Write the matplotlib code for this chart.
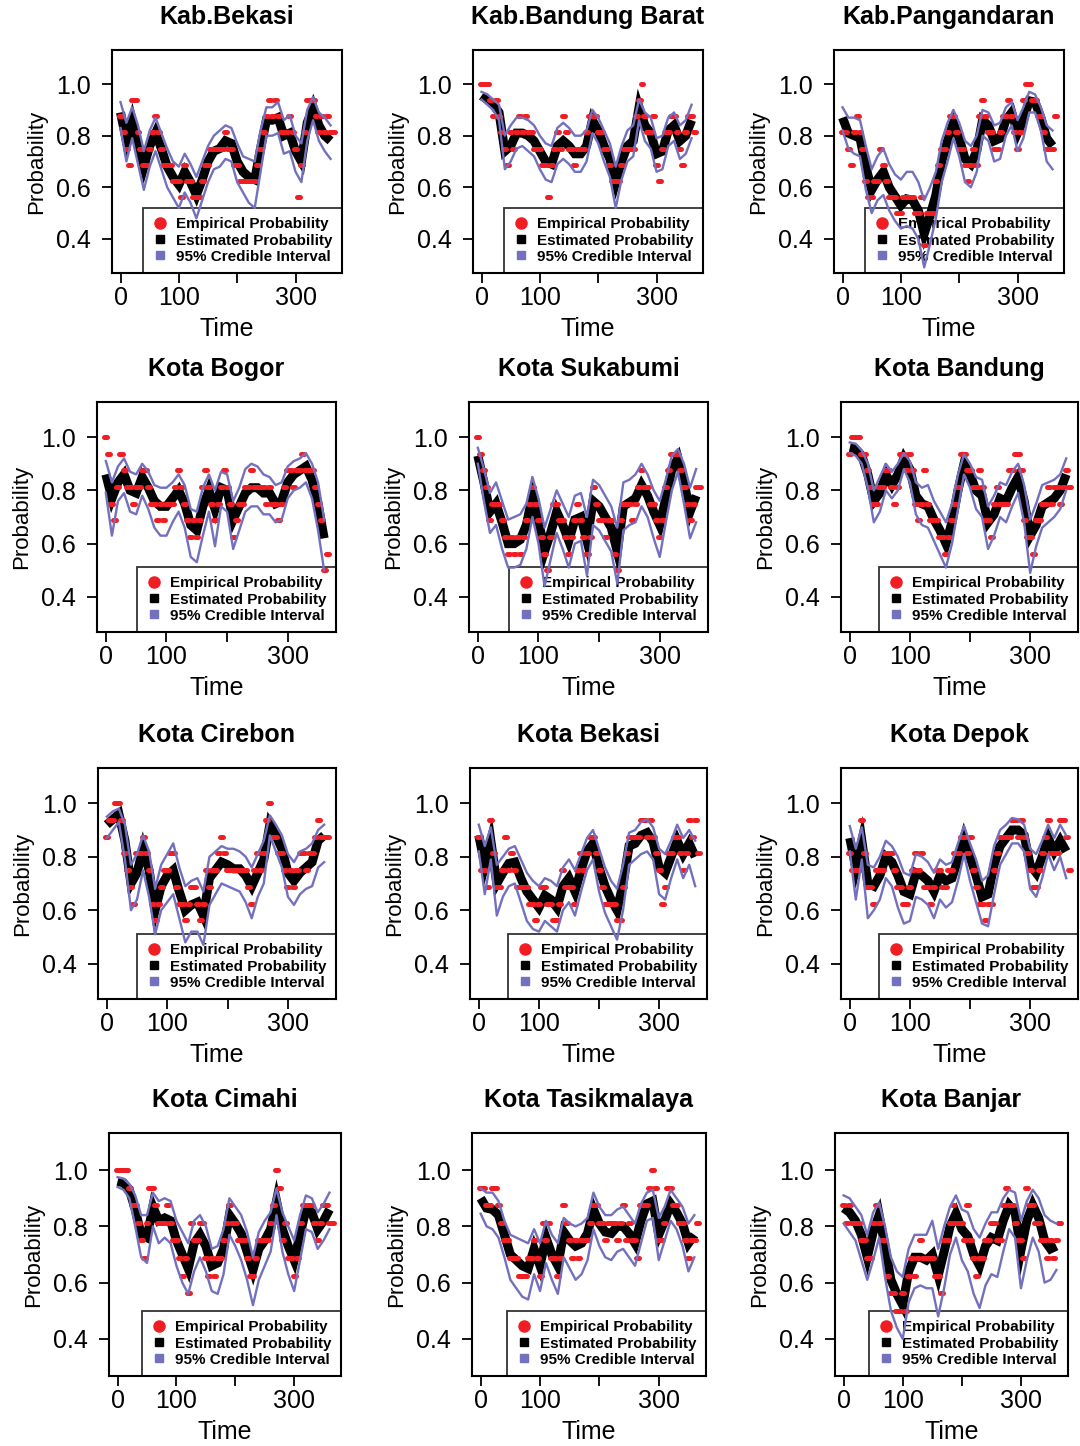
import numpy as np
import matplotlib
matplotlib.use('Agg')
import matplotlib.pyplot as plt
from matplotlib.lines import Line2D

plt.rcParams['font.family'] = ['Liberation Sans', 'DejaVu Sans']

# ---------------------------------------------------------------------------
# Data.
# *_emp : empirical probability every 5 days, in sixteenths (k/16)
# *_est, *_lo, *_hi : estimate and 95% credible band every 10 days
# ---------------------------------------------------------------------------
titles = ['Kab.Bekasi', 'Kab.Bandung Barat', 'Kab.Pangandaran',
          'Kota Bogor', 'Kota Sukabumi', 'Kota Bandung',
          'Kota Cirebon', 'Kota Bekasi', 'Kota Depok',
          'Kota Cimahi', 'Kota Tasikmalaya', 'Kota Banjar']

legend_labels = ['Empirical Probability', 'Estimated Probability', '95% Credible Interval']

# Kab.Bekasi
kbekasi_emp = [14, 13, 12, 11, 15, 15, 13, 12, 11, 11,
               12, 13, 14, 13, 12, 11, 11, 11, 10, 10,
               10, 9, 11, 10, 10, 9, 9, 9, 10, 11,
               11, 12, 12, 12, 12, 12, 13, 12, 12, 11,
               11, 10, 10, 10, 10, 10, 10, 11, 12, 13,
               14, 15, 14, 15, 14, 13, 13, 13, 14, 13,
               12, 9, 11, 13, 15, 15, 15, 14, 13, 14,
               13, 14, 13, 13]
kbekasi_est = [0.89, 0.78, 0.86, 0.77, 0.68, 0.76, 0.81, 0.75, 0.68, 0.64,
               0.61, 0.66, 0.62, 0.57, 0.63, 0.70, 0.74, 0.75, 0.78, 0.77,
               0.70, 0.66, 0.64, 0.63, 0.75, 0.86, 0.86, 0.87, 0.80, 0.81,
               0.74, 0.70, 0.85, 0.91, 0.84, 0.80, 0.78]
kbekasi_hi = [0.93, 0.85, 0.91, 0.84, 0.74, 0.82, 0.87, 0.81, 0.75, 0.70,
              0.68, 0.73, 0.69, 0.64, 0.70, 0.76, 0.80, 0.82, 0.84, 0.83,
              0.77, 0.72, 0.71, 0.70, 0.82, 0.91, 0.91, 0.93, 0.86, 0.88,
              0.80, 0.77, 0.90, 0.95, 0.89, 0.87, 0.84]
kbekasi_lo = [0.83, 0.70, 0.79, 0.69, 0.59, 0.68, 0.74, 0.67, 0.60, 0.56,
              0.52, 0.58, 0.54, 0.48, 0.55, 0.62, 0.67, 0.68, 0.71, 0.70,
              0.62, 0.58, 0.54, 0.52, 0.66, 0.80, 0.80, 0.81, 0.73, 0.74,
              0.66, 0.62, 0.78, 0.86, 0.78, 0.74, 0.71]

# Kab.Bandung Barat
bbarat_emp = [16, 16, 16, 15, 14, 15, 14, 13, 12, 11,
              13, 12, 13, 14, 13, 14, 13, 13, 12, 12,
              12, 11, 11, 9, 11, 12, 13, 12, 14, 13,
              12, 12, 11, 12, 12, 12, 13, 14, 14, 14,
              13, 13, 12, 12, 11, 10, 10, 10, 11, 12,
              12, 12, 12, 14, 15, 16, 14, 13, 13, 14,
              11, 10, 12, 13, 13, 14, 14, 13, 12, 11,
              13, 14, 14, 13]
bbarat_est = [0.955, 0.94, 0.92, 0.89, 0.74, 0.76, 0.81, 0.81, 0.80, 0.78,
              0.74, 0.70, 0.69, 0.76, 0.78, 0.76, 0.73, 0.73, 0.76, 0.86,
              0.82, 0.76, 0.71, 0.62, 0.70, 0.76, 0.78, 0.91, 0.84, 0.81,
              0.73, 0.74, 0.82, 0.84, 0.78, 0.80, 0.86]
bbarat_hi = [0.97, 0.96, 0.94, 0.92, 0.80, 0.84, 0.87, 0.87, 0.86, 0.84,
             0.80, 0.77, 0.76, 0.83, 0.85, 0.83, 0.80, 0.80, 0.82, 0.90,
             0.87, 0.82, 0.77, 0.68, 0.76, 0.82, 0.84, 0.94, 0.89, 0.87,
             0.79, 0.80, 0.87, 0.89, 0.84, 0.86, 0.92]
bbarat_lo = [0.94, 0.92, 0.90, 0.86, 0.67, 0.70, 0.75, 0.76, 0.74, 0.72,
             0.67, 0.63, 0.62, 0.69, 0.71, 0.69, 0.66, 0.66, 0.70, 0.81,
             0.77, 0.70, 0.64, 0.52, 0.63, 0.70, 0.72, 0.86, 0.78, 0.75,
             0.66, 0.67, 0.76, 0.78, 0.71, 0.73, 0.79]

# Kab.Pangandaran
pangandaran_emp = [13, 13, 12, 11, 13, 14, 13, 12, 10, 9,
                   9, 10, 10, 12, 11, 10, 9, 9, 9, 8,
                   8, 9, 9, 9, 9, 8, 8, 9, 6, 8,
                   8, 8, 10, 11, 12, 12, 13, 14, 14, 13,
                   12, 12, 11, 10, 11, 12, 11, 14, 15, 14,
                   13, 13, 12, 12, 13, 14, 14, 15, 14, 13,
                   12, 13, 15, 16, 16, 15, 15, 14, 14, 13,
                   12, 12, 12, 14]
pangandaran_est = [0.87, 0.81, 0.80, 0.79, 0.68, 0.59, 0.63, 0.66, 0.60, 0.565,
                   0.53, 0.555, 0.55, 0.51, 0.42, 0.49, 0.57, 0.70, 0.78, 0.85,
                   0.79, 0.71, 0.69, 0.74, 0.86, 0.84, 0.78, 0.79, 0.86, 0.89,
                   0.81, 0.86, 0.935, 0.93, 0.87, 0.79, 0.76]
pangandaran_hi = [0.91, 0.87, 0.87, 0.86, 0.76, 0.67, 0.72, 0.75, 0.69, 0.65,
                  0.63, 0.66, 0.66, 0.62, 0.55, 0.60, 0.66, 0.78, 0.85, 0.90,
                  0.85, 0.78, 0.76, 0.80, 0.90, 0.89, 0.84, 0.85, 0.91, 0.93,
                  0.86, 0.91, 0.97, 0.96, 0.91, 0.84, 0.82]
pangandaran_lo = [0.82, 0.75, 0.73, 0.72, 0.59, 0.50, 0.55, 0.57, 0.51, 0.47,
                  0.44, 0.45, 0.44, 0.40, 0.29, 0.38, 0.48, 0.62, 0.70, 0.79,
                  0.72, 0.62, 0.60, 0.66, 0.80, 0.78, 0.70, 0.71, 0.80, 0.84,
                  0.74, 0.79, 0.89, 0.89, 0.82, 0.70, 0.67]

# Kota Bogor
bogor_emp = [16, 15, 12, 11, 13, 15, 14, 13, 13, 12,
             13, 13, 14, 14, 13, 12, 12, 11, 12, 11,
             12, 12, 12, 13, 14, 13, 12, 11, 10, 11,
             10, 11, 13, 14, 13, 12, 11, 12, 13, 14,
             13, 12, 10, 11, 12, 12, 13, 13, 14, 13,
             13, 13, 13, 12, 13, 12, 12, 11, 12, 13,
             14, 14, 13, 14, 14, 15, 14, 14, 14, 13,
             12, 11, 8, 9]
bogor_est = [0.86, 0.77, 0.83, 0.86, 0.80, 0.79, 0.85, 0.81, 0.76, 0.74,
             0.74, 0.77, 0.80, 0.75, 0.67, 0.65, 0.74, 0.80, 0.73, 0.81,
             0.80, 0.69, 0.74, 0.79, 0.81, 0.81, 0.79, 0.79, 0.75, 0.76,
             0.83, 0.86, 0.875, 0.89, 0.84, 0.75, 0.62]
bogor_hi = [0.91, 0.83, 0.89, 0.92, 0.87, 0.86, 0.90, 0.87, 0.82, 0.81,
            0.81, 0.83, 0.86, 0.82, 0.73, 0.72, 0.81, 0.86, 0.80, 0.87,
            0.86, 0.76, 0.81, 0.88, 0.90, 0.89, 0.86, 0.85, 0.82, 0.83,
            0.89, 0.91, 0.92, 0.94, 0.90, 0.83, 0.69]
bogor_lo = [0.79, 0.63, 0.76, 0.79, 0.72, 0.71, 0.78, 0.73, 0.66, 0.63,
            0.63, 0.68, 0.72, 0.66, 0.55, 0.53, 0.63, 0.72, 0.59, 0.74,
            0.72, 0.58, 0.65, 0.72, 0.74, 0.74, 0.71, 0.71, 0.68, 0.69,
            0.77, 0.80, 0.81, 0.83, 0.77, 0.65, 0.50]

# Kota Sukabumi
sukabumi_emp = [16, 15, 14, 13, 11, 12, 12, 12, 11, 10,
                9, 10, 9, 10, 9, 10, 11, 12, 13, 12,
                11, 10, 9, 8, 10, 12, 12, 11, 11, 10,
                9, 10, 11, 12, 11, 10, 9, 10, 13, 12,
                11, 11, 10, 11, 11, 9, 8, 11, 12, 12,
                12, 11, 12, 13, 14, 13, 13, 12, 12, 11,
                10, 11, 13, 14, 15, 15, 15, 14, 13, 12,
                11, 12, 13, 13]
sukabumi_est = [0.93, 0.83, 0.72, 0.75, 0.68, 0.60, 0.60, 0.615, 0.67, 0.78,
                0.69, 0.57, 0.64, 0.72, 0.67, 0.61, 0.69, 0.70, 0.61, 0.76,
                0.74, 0.70, 0.66, 0.57, 0.74, 0.755, 0.77, 0.82, 0.78, 0.72,
                0.67, 0.77, 0.88, 0.92, 0.83, 0.72, 0.78]
sukabumi_hi = [0.96, 0.88, 0.79, 0.83, 0.76, 0.69, 0.70, 0.71, 0.75, 0.85,
               0.77, 0.66, 0.73, 0.80, 0.75, 0.70, 0.78, 0.79, 0.70, 0.84,
               0.82, 0.78, 0.74, 0.66, 0.83, 0.84, 0.86, 0.90, 0.86, 0.80,
               0.76, 0.84, 0.93, 0.955, 0.90, 0.81, 0.88]
sukabumi_lo = [0.90, 0.76, 0.64, 0.67, 0.58, 0.51, 0.51, 0.52, 0.58, 0.70,
               0.60, 0.44, 0.54, 0.64, 0.58, 0.51, 0.60, 0.61, 0.48, 0.67,
               0.65, 0.61, 0.57, 0.45, 0.65, 0.67, 0.68, 0.74, 0.70, 0.62,
               0.55, 0.68, 0.80, 0.87, 0.75, 0.62, 0.68]

# Kota Bandung
bandung_emp = [15, 16, 16, 16, 15, 15, 14, 13, 12, 12,
               13, 13, 14, 14, 13, 12, 13, 15, 15, 14,
               15, 14, 12, 11, 12, 14, 12, 11, 11, 11,
               10, 10, 9, 10, 11, 12, 13, 15, 15, 14,
               14, 13, 13, 14, 13, 11, 11, 10, 12, 13,
               12, 12, 12, 14, 14, 15, 15, 14, 11, 10,
               10, 9, 11, 11, 12, 12, 13, 12, 13, 13,
               12, 13, 14, 13]
bandung_est = [0.96, 0.955, 0.93, 0.86, 0.76, 0.79, 0.86, 0.82, 0.86, 0.92,
               0.88, 0.78, 0.75, 0.74, 0.69, 0.65, 0.60, 0.68, 0.80, 0.90,
               0.86, 0.80, 0.78, 0.68, 0.71, 0.77, 0.76, 0.81, 0.85, 0.76,
               0.63, 0.67, 0.74, 0.755, 0.77, 0.80, 0.86]
bandung_hi = [0.98, 0.975, 0.95, 0.90, 0.80, 0.85, 0.90, 0.87, 0.90, 0.94,
              0.91, 0.83, 0.81, 0.82, 0.76, 0.72, 0.68, 0.75, 0.86, 0.935,
              0.90, 0.85, 0.84, 0.74, 0.78, 0.83, 0.82, 0.87, 0.90, 0.82,
              0.69, 0.75, 0.82, 0.83, 0.84, 0.86, 0.92]
bandung_lo = [0.94, 0.93, 0.90, 0.81, 0.68, 0.72, 0.80, 0.77, 0.80, 0.88,
              0.83, 0.71, 0.67, 0.66, 0.61, 0.56, 0.51, 0.60, 0.73, 0.86,
              0.81, 0.73, 0.70, 0.58, 0.63, 0.70, 0.68, 0.74, 0.79, 0.68,
              0.49, 0.59, 0.66, 0.68, 0.70, 0.73, 0.80]

# Kota Cirebon
cirebon_emp = [14, 15, 15, 16, 16, 15, 13, 12, 11, 10,
               13, 13, 14, 13, 12, 10, 9, 10, 11, 12,
               12, 13, 13, 11, 10, 10, 9, 10, 11, 11,
               10, 9, 10, 12, 11, 12, 12, 13, 14, 13,
               12, 12, 12, 12, 12, 12, 12, 11, 10, 12,
               13, 12, 13, 15, 16, 14, 14, 13, 13, 12,
               11, 12, 11, 12, 13, 13, 12, 13, 13, 14,
               15, 14, 14, 14]
cirebon_est = [0.92, 0.94, 0.96, 0.86, 0.70, 0.74, 0.83, 0.75, 0.60, 0.69,
               0.73, 0.75, 0.67, 0.60, 0.62, 0.63, 0.58, 0.72, 0.75, 0.78,
               0.77, 0.755, 0.755, 0.73, 0.69, 0.74, 0.79, 0.92, 0.88, 0.83,
               0.74, 0.71, 0.74, 0.76, 0.78, 0.86, 0.88]
cirebon_hi = [0.95, 0.97, 0.98, 0.92, 0.77, 0.81, 0.88, 0.82, 0.68, 0.77,
              0.81, 0.85, 0.76, 0.69, 0.71, 0.72, 0.67, 0.80, 0.82, 0.84,
              0.83, 0.83, 0.82, 0.80, 0.76, 0.81, 0.86, 0.955, 0.92, 0.88,
              0.81, 0.78, 0.82, 0.83, 0.85, 0.90, 0.92]
cirebon_lo = [0.87, 0.90, 0.93, 0.79, 0.60, 0.64, 0.75, 0.65, 0.51, 0.60,
              0.63, 0.66, 0.57, 0.48, 0.52, 0.52, 0.47, 0.62, 0.66, 0.70,
              0.69, 0.68, 0.67, 0.63, 0.57, 0.65, 0.70, 0.88, 0.82, 0.76,
              0.65, 0.62, 0.66, 0.68, 0.69, 0.76, 0.78]

# Kota Bekasi
bekasi_emp = [14, 12, 12, 11, 15, 13, 11, 11, 12, 14,
              12, 13, 12, 11, 11, 11, 11, 10, 10, 9,
              10, 11, 11, 10, 10, 9, 9, 10, 12, 11,
              11, 11, 10, 12, 13, 12, 13, 14, 14, 13,
              12, 11, 10, 10, 10, 10, 9, 9, 11, 13,
              14, 14, 14, 14, 15, 15, 14, 15, 14, 13,
              12, 10, 11, 13, 13, 14, 14, 13, 12, 13,
              15, 14, 15, 13]
bekasi_est = [0.88, 0.77, 0.86, 0.70, 0.74, 0.775, 0.78, 0.72, 0.67, 0.64,
              0.61, 0.655, 0.64, 0.61, 0.69, 0.72, 0.67, 0.75, 0.82, 0.85,
              0.76, 0.69, 0.64, 0.60, 0.70, 0.84, 0.85, 0.88, 0.89, 0.855,
              0.76, 0.74, 0.80, 0.86, 0.81, 0.85, 0.80]
bekasi_hi = [0.92, 0.84, 0.91, 0.77, 0.80, 0.83, 0.84, 0.79, 0.74, 0.71,
             0.69, 0.72, 0.71, 0.69, 0.76, 0.79, 0.75, 0.81, 0.87, 0.90,
             0.83, 0.76, 0.71, 0.68, 0.77, 0.89, 0.90, 0.93, 0.94, 0.91,
             0.83, 0.81, 0.86, 0.92, 0.87, 0.90, 0.86]
bekasi_lo = [0.82, 0.66, 0.79, 0.58, 0.65, 0.69, 0.70, 0.63, 0.56, 0.53,
             0.52, 0.56, 0.54, 0.52, 0.60, 0.63, 0.58, 0.67, 0.75, 0.79,
             0.67, 0.59, 0.54, 0.49, 0.60, 0.77, 0.79, 0.81, 0.82, 0.79,
             0.66, 0.64, 0.72, 0.79, 0.72, 0.77, 0.69]

# Kota Depok
depok_emp = [13, 12, 12, 12, 15, 13, 11, 11, 10, 12,
             12, 12, 13, 13, 13, 12, 11, 11, 10, 10,
             11, 12, 13, 12, 13, 11, 11, 10, 11, 12,
             12, 11, 11, 12, 12, 13, 13, 14, 14, 13,
             14, 12, 11, 10, 10, 9, 10, 10, 12, 13,
             14, 14, 14, 14, 15, 15, 14, 15, 14, 13,
             12, 11, 11, 12, 13, 14, 15, 13, 13, 13,
             15, 15, 14, 12]
depok_est = [0.87, 0.76, 0.86, 0.70, 0.69, 0.73, 0.80, 0.78, 0.73, 0.67,
             0.66, 0.74, 0.73, 0.71, 0.67, 0.73, 0.71, 0.72, 0.79, 0.87,
             0.80, 0.73, 0.65, 0.66, 0.77, 0.84, 0.87, 0.90, 0.90, 0.88,
             0.77, 0.74, 0.80, 0.87, 0.82, 0.86, 0.82]
depok_hi = [0.915, 0.83, 0.91, 0.77, 0.76, 0.80, 0.86, 0.84, 0.80, 0.74,
            0.73, 0.81, 0.80, 0.78, 0.74, 0.79, 0.77, 0.78, 0.85, 0.915,
            0.85, 0.79, 0.71, 0.73, 0.84, 0.90, 0.92, 0.945, 0.94, 0.92,
            0.83, 0.81, 0.86, 0.92, 0.87, 0.92, 0.88]
depok_lo = [0.82, 0.64, 0.79, 0.57, 0.60, 0.64, 0.72, 0.69, 0.61, 0.55,
            0.56, 0.65, 0.64, 0.62, 0.57, 0.64, 0.61, 0.63, 0.71, 0.81,
            0.71, 0.63, 0.55, 0.54, 0.66, 0.77, 0.81, 0.85, 0.85, 0.82,
            0.68, 0.65, 0.72, 0.81, 0.75, 0.80, 0.72]

# Kota Cimahi
cimahi_emp = [16, 16, 16, 16, 15, 14, 14, 13, 12, 11,
              13, 15, 15, 14, 13, 13, 13, 14, 13, 12,
              12, 11, 10, 11, 9, 13, 12, 12, 13, 13,
              11, 10, 11, 10, 11, 11, 12, 13, 14, 13,
              13, 12, 12, 12, 11, 10, 10, 11, 12, 12,
              12, 12, 13, 14, 16, 15, 12, 13, 11, 11,
              10, 11, 13, 14, 14, 14, 14, 13, 12, 13,
              14, 14, 13, 13]
cimahi_est = [0.96, 0.955, 0.93, 0.86, 0.77, 0.76, 0.87, 0.82, 0.83, 0.82,
              0.75, 0.70, 0.65, 0.74, 0.77, 0.73, 0.66, 0.67, 0.72, 0.84,
              0.81, 0.775, 0.71, 0.645, 0.72, 0.75, 0.79, 0.89, 0.79, 0.73,
              0.68, 0.77, 0.86, 0.85, 0.79, 0.82, 0.86]
cimahi_hi = [0.975, 0.97, 0.95, 0.91, 0.84, 0.84, 0.92, 0.89, 0.90, 0.89,
             0.82, 0.78, 0.74, 0.82, 0.84, 0.80, 0.72, 0.73, 0.79, 0.90,
             0.87, 0.84, 0.78, 0.69, 0.78, 0.82, 0.85, 0.935, 0.85, 0.80,
             0.75, 0.84, 0.91, 0.90, 0.85, 0.88, 0.92]
cimahi_lo = [0.94, 0.93, 0.90, 0.80, 0.69, 0.67, 0.80, 0.74, 0.76, 0.74,
             0.66, 0.60, 0.56, 0.64, 0.69, 0.64, 0.57, 0.56, 0.63, 0.77,
             0.73, 0.68, 0.61, 0.52, 0.61, 0.66, 0.71, 0.84, 0.71, 0.63,
             0.57, 0.68, 0.79, 0.78, 0.72, 0.75, 0.79]

# Kota Tasikmalaya
tasik_emp = [15, 15, 14, 14, 15, 15, 14, 13, 12, 12,
             11, 11, 11, 10, 10, 10, 11, 11, 12, 11,
             10, 13, 12, 13, 11, 11, 10, 11, 14, 13,
             12, 11, 12, 11, 12, 12, 12, 13, 14, 14,
             13, 13, 12, 13, 13, 13, 12, 13, 14, 12,
             13, 12, 12, 11, 14, 14, 14, 15, 16, 15,
             12, 12, 13, 15, 15, 14, 14, 13, 13, 12,
             11, 12, 12, 13]
tasik_est = [0.90, 0.865, 0.86, 0.84, 0.77, 0.70, 0.68, 0.66, 0.65, 0.72,
             0.66, 0.76, 0.70, 0.66, 0.78, 0.75, 0.73, 0.74, 0.775, 0.86,
             0.81, 0.78, 0.775, 0.80, 0.80, 0.775, 0.74, 0.82, 0.88, 0.89,
             0.77, 0.82, 0.88, 0.85, 0.81, 0.74, 0.77]
tasik_hi = [0.935, 0.92, 0.92, 0.89, 0.82, 0.77, 0.76, 0.75, 0.74, 0.79,
            0.74, 0.82, 0.77, 0.74, 0.83, 0.81, 0.80, 0.81, 0.83, 0.92,
            0.87, 0.84, 0.84, 0.86, 0.87, 0.84, 0.81, 0.88, 0.92, 0.93,
            0.83, 0.87, 0.93, 0.90, 0.87, 0.81, 0.84]
tasik_lo = [0.845, 0.80, 0.79, 0.76, 0.69, 0.61, 0.58, 0.55, 0.54, 0.63,
            0.57, 0.67, 0.61, 0.56, 0.69, 0.65, 0.61, 0.63, 0.68, 0.79,
            0.73, 0.69, 0.68, 0.71, 0.72, 0.69, 0.66, 0.74, 0.82, 0.83,
            0.68, 0.75, 0.82, 0.79, 0.73, 0.64, 0.69]

# Kota Banjar
banjar_emp = [14, 13, 14, 13, 13, 13, 12, 12, 11, 11,
              13, 14, 13, 12, 12, 10, 9, 9, 8, 8,
              9, 8, 10, 11, 10, 11, 12, 11, 11, 11,
              11, 10, 10, 9, 12, 12, 13, 14, 13, 13,
              13, 12, 14, 12, 11, 10, 11, 11, 12, 12,
              13, 13, 12, 12, 14, 15, 14, 14, 13, 12,
              12, 11, 15, 14, 14, 13, 13, 12, 12, 11,
              12, 11, 12, 13]
banjar_est = [0.865, 0.85, 0.82, 0.77, 0.69, 0.78, 0.84, 0.73, 0.61, 0.56,
              0.52, 0.64, 0.69, 0.69, 0.68, 0.70, 0.625, 0.71, 0.80, 0.845,
              0.79, 0.765, 0.70, 0.66, 0.73, 0.76, 0.75, 0.82, 0.875, 0.85,
              0.715, 0.82, 0.875, 0.83, 0.75, 0.72, 0.73]
banjar_hi = [0.91, 0.90, 0.87, 0.84, 0.77, 0.85, 0.885, 0.80, 0.69, 0.64,
             0.62, 0.72, 0.77, 0.77, 0.77, 0.82, 0.72, 0.80, 0.87, 0.91,
             0.86, 0.85, 0.79, 0.76, 0.81, 0.85, 0.85, 0.90, 0.93, 0.92,
             0.82, 0.89, 0.93, 0.90, 0.84, 0.82, 0.81]
banjar_lo = [0.81, 0.78, 0.75, 0.68, 0.61, 0.68, 0.76, 0.62, 0.50, 0.44,
             0.40, 0.53, 0.58, 0.59, 0.58, 0.58, 0.48, 0.58, 0.70, 0.76,
             0.68, 0.64, 0.56, 0.51, 0.59, 0.63, 0.62, 0.71, 0.79, 0.76,
             0.58, 0.68, 0.76, 0.71, 0.60, 0.61, 0.645]

series = [
    (kbekasi_emp, kbekasi_est, kbekasi_lo, kbekasi_hi),
    (bbarat_emp, bbarat_est, bbarat_lo, bbarat_hi),
    (pangandaran_emp, pangandaran_est, pangandaran_lo, pangandaran_hi),
    (bogor_emp, bogor_est, bogor_lo, bogor_hi),
    (sukabumi_emp, sukabumi_est, sukabumi_lo, sukabumi_hi),
    (bandung_emp, bandung_est, bandung_lo, bandung_hi),
    (cirebon_emp, cirebon_est, cirebon_lo, cirebon_hi),
    (bekasi_emp, bekasi_est, bekasi_lo, bekasi_hi),
    (depok_emp, depok_est, depok_lo, depok_hi),
    (cimahi_emp, cimahi_est, cimahi_lo, cimahi_hi),
    (tasik_emp, tasik_est, tasik_lo, tasik_hi),
    (banjar_emp, banjar_est, banjar_lo, banjar_hi),
]

# ---------------------------------------------------------------------------
# Layout: plot boxes in pixels (left, right, top, bottom) on the 1080x1446 page
# ---------------------------------------------------------------------------
W, H = 1080, 1446
boxes = [(112, 342, 50, 273), (473, 703, 50, 273), (834, 1064, 50, 273),
         (97, 336, 402, 632), (469, 708, 402, 632), (841, 1078, 402, 632),
         (98, 336, 768, 999), (470, 707, 768, 999), (841, 1078, 768, 999),
         (109, 341, 1133, 1376), (472, 706, 1133, 1376), (835, 1068, 1133, 1376)]

RED = '#f01e23'
PURPLE = '#7370be'

fig = plt.figure(figsize=(W / 100, H / 100), dpi=100)

for title, (emp, est, lo, hi), (l, r, t, b) in zip(titles, series, boxes):
    w_px, h_px = r - l, b - t
    ax = fig.add_axes([l / W, 1 - b / H, w_px / W, h_px / H])

    d5 = np.arange(len(emp)) * 5
    d10 = np.arange(len(est)) * 10

    # estimated probability (dense black squares in the original)
    ax.plot(d10, est, color='black', lw=6.5, solid_joinstyle='miter',
            solid_capstyle='butt', zorder=2)
    # empirical probability: runs of red dots at k/16 levels
    ax.hlines(np.array(emp) / 16, d5 - 2.5, d5 + 2.5, color=RED, lw=3.6,
              capstyle='round', zorder=3)
    # credible band
    ax.plot(d10, lo, color=PURPLE, lw=1.7, zorder=4)
    ax.plot(d10, hi, color=PURPLE, lw=1.7, zorder=4)

    ax.set_xlim(-14.6, 379.6)
    ax.set_ylim(0.268, 1.132)
    ax.set_xticks([0, 100, 200, 300])
    ax.set_xticklabels(['0', '100', '', '300'])
    ax.set_yticks([0.4, 0.6, 0.8, 1.0])
    ax.set_yticklabels(['0.4', '0.6', '0.8', '1.0'])
    ax.tick_params(axis='both', direction='out', length=7, width=1.3, labelsize=18)
    ax.tick_params(axis='x', pad=2.5)
    ax.tick_params(axis='y', pad=8)
    for sp in ax.spines.values():
        sp.set_linewidth(1.5)

    ax.set_title(title, fontsize=18, fontweight='bold', y=1 + 33 / h_px, pad=0, va='center')
    ax.set_xlabel('Time', fontsize=18)
    ax.xaxis.set_label_coords(0.5, -56 / h_px)
    ax.xaxis.label.set_va('center')
    ax.set_ylabel('Probability', fontsize=16)
    ax.yaxis.set_label_coords(-75 / w_px, 0.5)
    ax.yaxis.label.set_va('center')
    ax.yaxis.label.set_ha('center')

    handles = [Line2D([], [], ls='none', marker='o', ms=8, color=RED),
               Line2D([], [], ls='none', marker='s', ms=6, color='black'),
               Line2D([], [], ls='none', marker='s', ms=6, color=PURPLE)]
    leg = ax.legend(handles, legend_labels, loc='lower right', borderaxespad=0,
                    fancybox=False, edgecolor='black', facecolor='none',
                    prop={'size': 11, 'weight': 'bold'}, handlelength=1.0,
                    handletextpad=0.6, borderpad=0.6, labelspacing=0.15)
    leg.get_frame().set_linewidth(1.3)
    leg.set_zorder(1)

fig.savefig('out.png', dpi=100, facecolor='white')
plt.close(fig)
